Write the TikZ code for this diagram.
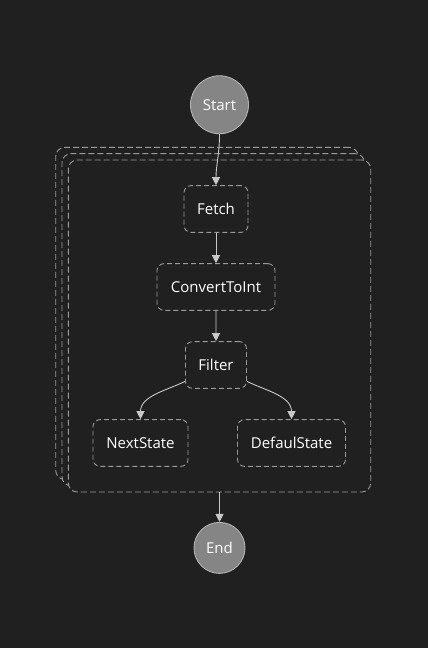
\documentclass[tikz,border=0pt]{standalone}
\usepackage{fontspec}
\setmainfont{Open Sans}
\usetikzlibrary{arrows.meta,positioning}

\definecolor{canvasbg}{HTML}{202020}
\definecolor{dashgrey}{HTML}{9A9A9A}
\definecolor{flowgrey}{HTML}{C8C8C8}
\definecolor{termfill}{HTML}{858585}
\definecolor{termline}{HTML}{B4B4B4}

\begin{document}
\begin{tikzpicture}[x=1pt,y=1pt,font=\fontsize{15}{17}\selectfont,
	state/.style={draw=dashgrey,dash pattern=on 5pt off 3pt,rounded corners=7pt,
		line width=0.9pt,minimum height=46.7pt,text=white,inner sep=0pt},
	term/.style={circle,fill=termfill,draw=termline,line width=0.9pt,text=white,inner sep=0pt},
	mapframe/.style={draw=dashgrey,dash pattern=on 6pt off 3pt,rounded corners=9pt,
		line width=0.9pt,fill=canvasbg,minimum width=302.4pt,minimum height=332pt},
	flow/.style={draw=flowgrey,line width=0.9pt,-{Triangle[width=8pt,length=8pt]}},
	level distance=78pt,level 3/.style={sibling distance=151pt},
	edge from parent/.style={draw=none}]
	\fill[canvasbg] (0,0) rectangle (428,648);
	\useasboundingbox (0,0) rectangle (428,648);
	% stacked map frames
	\node[mapframe] (map3) at (206.9,334.6) {};
	\node[mapframe] (map2) at (213.2,328.3) {};
	\node[mapframe] (map) at (219.5,322) {};
	\node[state,minimum width=64pt] (fetch) at (216,439) {Fetch}
		child { node[state,minimum width=118pt] (convert) {ConvertToInt}
			child { node[state,minimum width=61pt] (filter) {Filter}
				child { node[state,minimum width=95pt] (next) {NextState}}
				child { node[state,minimum width=108pt] (defaul) {DefaulState}}}}
	;
	\node[term,minimum size=58pt] (start) [above=51pt of fetch,xshift=3.5pt] {Start};
	\node[term,minimum size=51pt] (end) [below=29.5pt of map] {End};
	\draw[flow] (start) to[out=-90,in=90] (fetch);
	\draw[flow] (fetch) -- (convert);
	\draw[flow] (convert) -- (filter);
	\draw[flow] (filter.208) to[out=205,in=90] (next);
	\draw[flow] (filter.332) to[out=-25,in=90] (defaul);
	\draw[flow] (map) -- (end);
\end{tikzpicture}
\end{document}
